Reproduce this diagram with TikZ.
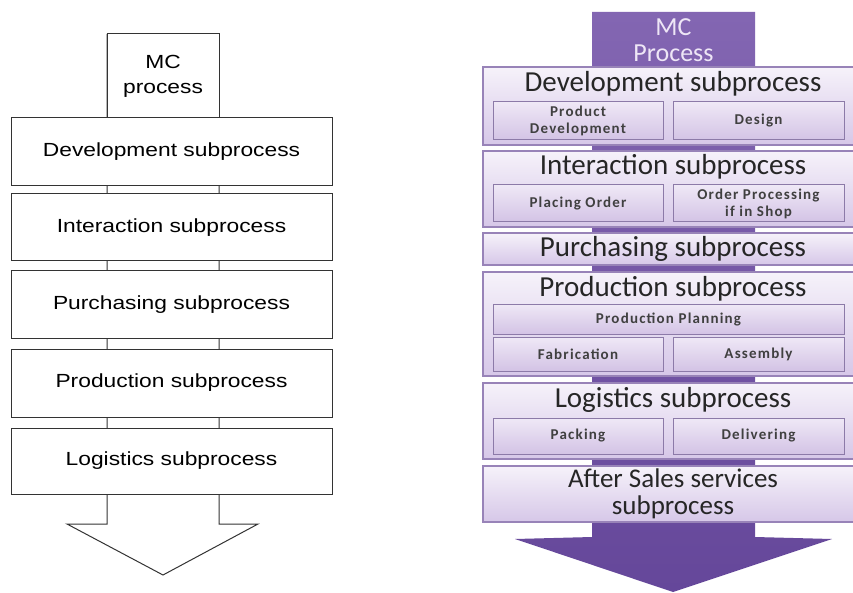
\documentclass[tikz,border=0pt]{standalone}
\usepackage{fontspec}
\setmainfont{Liberation Sans}
\newfontfamily\lfont[FakeStretch=1.2]{Liberation Sans}
\newfontfamily\rfont{Carlito}
\newfontfamily\rsubfont[LetterSpace=8]{Carlito}
\definecolor{lline}{HTML}{333333}
\definecolor{shaftTop}{HTML}{8366B2}
\definecolor{shaftBot}{HTML}{65479A}
\definecolor{boxTop}{HTML}{F6F2FA}
\definecolor{boxBot}{HTML}{D6C7E8}
\definecolor{boxEdge}{HTML}{9883B8}
\definecolor{subTop}{HTML}{EFE8F6}
\definecolor{subBot}{HTML}{D3C3E5}
\definecolor{subEdge}{HTML}{8C7AA8}
\definecolor{rtext}{HTML}{262626}
\definecolor{rsubtext}{HTML}{404040}
\definecolor{mctext}{HTML}{EEE6F6}
\tikzset{
  lbox/.style={draw=lline, fill=white, line width=1pt, inner sep=0pt,
    minimum width=321pt, font=\lfont\fontsize{19}{23}\selectfont, text=black},
  rbox/.style={draw=boxEdge, line width=1.6pt, top color=boxTop, bottom color=boxBot,
    minimum width=380pt, inner sep=0pt},
  rtitle/.style={font=\rfont\fontsize{29}{31}\selectfont, text=rtext, inner sep=0pt, align=center},
  rsub/.style={draw=subEdge, line width=1pt, top color=subTop, bottom color=subBot,
    inner sep=0pt, align=center, text=rsubtext,
    font=\rsubfont\bfseries\fontsize{15}{17}\selectfont}
}
\begin{document}
\begin{tikzpicture}[x=1pt,y=-1pt]
\useasboundingbox[fill=white] (0,0) rectangle (853,593);

% ---------------- left diagram ----------------
\draw[lline, line width=1pt, line join=miter]
  (107,34) -- (107,524) -- (67,524) -- (163,575) -- (258,524) -- (219,524) -- (219,34);
\node[lbox, minimum width=112pt, minimum height=84pt, align=center,
      font=\lfont\fontsize{19}{25}\selectfont] (lmc) at (163,76) {MC\\process};
\node[lbox, minimum height=68pt] (ldev)  at (171.5,152)   {Development subprocess};
\node[lbox, minimum height=67pt] (lint)  at (171.5,227.5) {Interaction subprocess};
\node[lbox, minimum height=67pt] (lpur)  at (171.5,304.5) {Purchasing subprocess};
\node[lbox, minimum height=68pt] (lprod) at (171.5,383)   {Production subprocess};
\node[lbox, minimum height=66pt] (llog)  at (171.5,461)   {Logistics subprocess};

% ---------------- right diagram ----------------
\path[top color=shaftTop, bottom color=shaftBot]
  (592,12) -- (755,12) -- (755,537) -- (832,539) -- (673,592) -- (515,539) -- (592,537) -- cycle;
\node[font=\rfont\fontsize{26}{26}\selectfont, text=mctext, align=center, inner sep=0pt]
  (rmc) at (673.5,40) {MC\\Process};

% Development
\node[rbox, minimum height=78pt] (rdev) at (673,106) {};
\node[rtitle] (rdevt) at (673,84) {Development subprocess};
\node[rsub, minimum width=170pt, minimum height=38pt] (rpd) at (578,121) {Product\\Development};
\node[rsub, minimum width=171pt, minimum height=38pt] (rdes) at (758.5,121) {Design};

% Interaction
\node[rbox, minimum height=76pt] (rint) at (673,189) {};
\node[rtitle] (rintt) at (673,167) {Interaction subprocess};
\node[rsub, minimum width=170pt, minimum height=37pt] (rpo) at (578,203.5) {Placing Order};
\node[rsub, minimum width=171pt, minimum height=37pt] (rop) at (758.5,203.5) {Order Processing\\if in Shop};

% Purchasing
\node[rbox, minimum height=32pt] (rpur) at (673,249) {};
\node[rtitle] (rpurt) at (673,249) {Purchasing subprocess};

% Production
\node[rbox, minimum height=104pt] (rprod) at (673,324) {};
\node[rtitle] (rprodt) at (673,289) {Production subprocess};
\node[rsub, minimum width=351pt, minimum height=30pt] (rpp) at (668.5,319) {Production Planning};
\node[rsub, minimum width=170pt, minimum height=34pt] (rfab) at (578,354) {Fabrication};
\node[rsub, minimum width=171pt, minimum height=34pt] (rasm) at (758.5,354) {Assembly};

% Logistics
\node[rbox, minimum height=76pt] (rlog) at (673,421) {};
\node[rtitle] (rlogt) at (673,400) {Logistics subprocess};
\node[rsub, minimum width=170pt, minimum height=36pt] (rpack) at (578,436) {Packing};
\node[rsub, minimum width=171pt, minimum height=36pt] (rdel) at (758.5,436) {Delivering};

% After sales
\node[rbox, minimum height=56pt] (raft) at (673,494) {};
\node[rtitle, font=\rfont\fontsize{27}{27}\selectfont] (raftt) at (673,494) {After Sales services\\subprocess};
\end{tikzpicture}
\end{document}
